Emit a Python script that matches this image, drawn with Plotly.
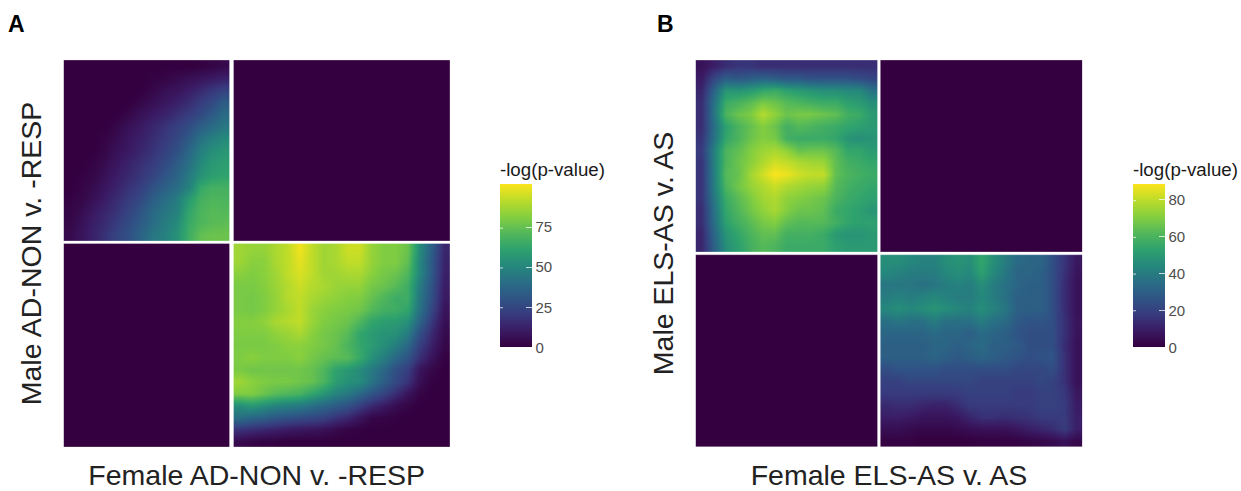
import plotly.graph_objects as go

# Colour scale
COLORSCALE = [[0.0, "#34003f"], [0.1, "#3a1a63"], [0.2, "#383a7e"], [0.3, "#2f5585"],
              [0.4, "#296e85"], [0.5, "#25887c"], [0.6, "#2ea26e"], [0.7, "#53b85a"],
              [0.8, "#85cf3f"], [0.9, "#bcdc2a"], [1.0, "#fbe41c"]]

A_MAX = 101.5
B_MAX = 88.0
A_TICKS = [0, 25, 50, 75]
B_TICKS = [0, 20, 40, 60, 80]

A_XTITLE = "Female AD-NON v. -RESP"
A_YTITLE = "Male AD-NON v. -RESP"
B_XTITLE = "Female ELS-AS v. AS"
B_YTITLE = "Male ELS-AS v. AS"
LEGEND_TITLE = "-log(p-value)"

# Rows run top to bottom
A_TOP_LEFT = [
 [0,0,0,0,0,0,0,0,0,0,0,1,2,4],
 [0,0,0,0,0,0,0,1,2,4,6,8,10,12],
 [0,0,0,0,0,0,0,3,6,8,11,15,19,23],
 [0,0,0,0,0,0,3,6,9,12,16,21,26,33],
 [0,0,0,0,0,3,7,10,13,17,21,26,32,39],
 [0,0,0,0,3,7,10,14,18,22,27,34,39,44],
 [0,0,0,2,5,9,12,16,20,25,32,41,47,51],
 [0,0,0,3,7,10,14,18,23,28,37,47,53,56],
 [0,0,2,5,9,13,17,21,26,33,41,51,57,59],
 [0,1,3,7,11,15,19,24,30,36,45,54,59,61],
 [0,2,5,9,13,18,22,29,35,40,48,63,67,67],
 [1,3,7,11,16,21,26,34,40,46,58,67,70,69],
 [2,5,10,14,18,24,30,38,44,48,62,69,72,71],
 [3,7,12,16,21,27,33,40,46,52,64,70,72,73],
 [4,8,13,18,24,29,36,44,48,54,66,74,76,76],
]
A_BOTTOM_RIGHT = [
 [86,84,84,88,92,100,92,86,88,94,94,84,80,80,76,52,34,14],
 [86,82,82,88,92,98,92,86,88,92,92,84,80,80,74,50,32,13],
 [82,80,82,86,92,96,92,86,86,88,88,82,78,76,70,50,32,12],
 [79,79,81,85,90,94,90,88,85,84,84,78,76,72,66,46,30,11],
 [79,78,80,84,90,92,88,85,83,81,80,75,70,65,66,44,28,10],
 [79,78,80,84,88,92,85,82,80,79,77,71,67,66,62,42,25,8],
 [81,81,83,88,90,92,85,80,78,76,70,62,59,58,54,36,20,6],
 [80,80,80,83,85,88,82,78,76,72,62,58,55,54,46,28,15,4],
 [79,79,79,80,82,82,80,78,75,69,63,58,53,47,38,22,12,3],
 [80,82,80,80,80,82,78,75,73,72,64,54,47,38,30,17,8,1],
 [79,77,77,77,77,77,75,70,61,57,52,45,38,28,22,8,3,0],
 [86,82,80,79,79,77,75,69,59,54,52,43,34,26,18,6,1,0],
 [80,80,76,72,70,68,62,56,49,45,38,30,24,16,8,2,0,0],
 [53,57,53,49,47,45,41,37,33,29,22,15,10,5,2,0,0,0],
 [41,37,35,31,29,27,25,23,18,14,8,3,2,1,0,0,0,0],
 [18,16,14,12,10,9,8,7,4,2,1,0,0,0,0,0,0,0],
 [4,2,1,1,0,0,0,0,0,0,0,0,0,0,0,0,0,0],
]
B_TOP_LEFT = [
 [6,10,14,16,16,14,14,14,14,14,14,14,14,14,14],
 [9,21,29,27,29,31,29,27,27,25,25,25,25,23,21],
 [12,31,48,48,50,54,56,52,50,48,46,46,44,44,36],
 [14,36,56,59,63,68,66,62,60,58,56,56,52,50,46],
 [14,37,60,66,69,78,72,66,68,68,66,64,58,56,50],
 [14,35,52,60,65,70,66,58,62,60,58,56,54,52,50],
 [16,36,54,60,66,70,68,58,56,56,56,54,48,46,48],
 [18,41,60,64,70,74,76,72,65,66,66,62,54,54,50],
 [16,41,60,66,71,77,82,80,77,75,74,64,58,56,54],
 [16,40,62,65,75,82,88,86,82,80,80,64,60,58,56],
 [16,40,60,67,73,77,81,77,75,73,72,62,58,56,54],
 [16,38,56,63,69,75,77,72,70,68,66,60,56,54,52],
 [14,36,54,61,67,72,76,70,66,66,64,56,54,52,48],
 [14,35,52,58,63,68,70,64,62,62,62,58,54,52,52],
 [12,32,48,54,60,64,64,58,58,58,56,50,48,48,50],
 [12,30,46,52,58,62,60,56,56,56,56,52,50,50,50],
]
B_BOTTOM_RIGHT = [
 [46,46,44,42,42,46,48,46,54,46,40,34,32,32,24,16,8],
 [44,42,40,40,40,44,46,44,52,44,38,32,32,30,24,15,7],
 [38,38,38,36,38,40,42,40,46,40,36,32,30,30,24,14,6],
 [40,42,40,42,44,42,40,40,44,40,36,30,30,30,24,14,6],
 [44,46,44,46,48,46,44,42,46,42,38,30,30,30,24,14,6],
 [36,38,36,36,40,36,36,36,40,36,34,28,26,26,24,15,7],
 [32,32,32,32,34,32,32,30,34,32,30,26,24,24,24,15,7],
 [30,30,30,30,32,32,30,32,34,30,30,28,24,24,24,14,6],
 [30,30,30,30,32,30,28,30,32,30,28,26,24,26,26,15,6],
 [24,26,26,26,26,24,24,24,24,24,24,22,22,22,24,15,6],
 [20,20,22,22,22,22,22,22,20,20,20,20,20,22,20,15,6],
 [18,18,18,18,18,18,18,20,20,20,20,18,18,20,20,17,8],
 [13,14,14,12,11,11,14,18,18,18,18,18,18,20,20,18,9],
 [10,10,9,7,7,7,8,12,15,15,14,15,16,18,18,18,10],
 [5,5,4,3,3,3,4,5,6,6,6,8,10,12,14,18,10],
 [1,1,1,0,0,0,0,0,1,1,1,1,2,3,4,6,3],
]
ZERO_QUADRANT = [[0, 0], [0, 0]]

W, H = 1241, 491
FONT = "Liberation Sans"
TOP, BOTTOM = 60.0, 447.0      # plot band, px from top
BAR_TOP, BAR_BOTTOM = 186.0, 347.5
BAR_WIDTH = 32
fig = go.Figure()
edges = []
notes = []


def quadrant(z, xa, ya, x0, x1, y0, y1, zmax):
    nr, nc = len(z), len(z[0])
    fig.add_trace(go.Heatmap(z=z, xaxis=xa, yaxis=ya, x0=x0 + (x1 - x0) / nc / 2, dx=(x1 - x0) / nc,
                             y0=y0 + (y1 - y0) / nr / 2, dy=(y1 - y0) / nr,
                             zmin=0, zmax=zmax, colorscale=COLORSCALE, zsmooth="best",
                             showscale=False, hoverinfo="skip"))
    edges.append(dict(type="rect", xref=xa, yref=ya, x0=x0, x1=x1, y0=y0, y1=y1, layer="above",
                      line=dict(color="rgba(255,255,255,0.3)", width=1)))


def panel(tl, br, xa, ya, left, right, vgap, hgap, zmax):
    # Axes are in pixels of the figure so the quadrants share one scale
    quadrant(tl, xa, ya, left, vgap[0], TOP, hgap[0], zmax)
    quadrant(ZERO_QUADRANT, xa, ya, vgap[1], right, TOP, hgap[0], zmax)
    quadrant(ZERO_QUADRANT, xa, ya, left, vgap[0], hgap[1], BOTTOM, zmax)
    quadrant(br, xa, ya, vgap[1], right, hgap[1], BOTTOM, zmax)


def colorbar_trace(xa, ya, zmax, ticks, x_px, title):
    fig.add_trace(go.Heatmap(z=[[0, zmax]], xaxis=xa, yaxis=ya, visible=True, opacity=0, x=[0, 0], y=[0],
                             zmin=0, zmax=zmax, colorscale=COLORSCALE, hoverinfo="skip",
                             colorbar=dict(x=x_px / W, xanchor="left", xref="paper", xpad=0, ypad=0,
                                           y=1 - BAR_BOTTOM / H, yanchor="bottom", yref="paper",
                                           thickness=BAR_WIDTH, thicknessmode="pixels",
                                           len=BAR_BOTTOM - BAR_TOP + 27, lenmode="pixels", outlinewidth=0,
                                           tickvals=ticks, ticks="inside", ticklen=6, tickwidth=1,
                                           tickcolor="rgba(255,255,255,0.75)", tickprefix="\u00a0\u00a0",
                                           tickfont=dict(family=FONT, size=15, color="#4d4d4d"),
                                           title=dict(text=title, side="top",
                                                      font=dict(family=FONT, size=18.7, color="#1a1a1a")))))
    # The legend has tick marks on its left side too
    for v in ticks:
        notes.append(dict(text=" ", xref="paper", yref="paper", x=x_px / W,
                          y=1 - (BAR_BOTTOM - v / zmax * (BAR_BOTTOM - BAR_TOP)) / H,
                          showarrow=True, arrowhead=0, arrowwidth=1, ax=6, ay=0,
                          arrowcolor="rgba(255,255,255,0.75)"))


panel(A_TOP_LEFT, A_BOTTOM_RIGHT, "x", "y", 63.5, 450.0, (229.7, 233.5), (241.0, 243.5), A_MAX)
panel(B_TOP_LEFT, B_BOTTOM_RIGHT, "x2", "y2", 695.5, 1082.5, (877.7, 880.3), (252.0, 254.7), B_MAX)
colorbar_trace("x", "y", A_MAX, A_TICKS, 500, LEGEND_TITLE)
colorbar_trace("x2", "y2", B_MAX, B_TICKS, 1133, LEGEND_TITLE)

AXIS = dict(showgrid=False, zeroline=False, showticklabels=False, ticks="", showline=False)
title_font = dict(family=FONT, size=28.5, color="#222222")
fig.update_layout(
    width=W, height=H, margin=dict(l=0, r=0, t=0, b=0), paper_bgcolor="white", plot_bgcolor="white",
    shapes=edges,
    xaxis=dict(AXIS, domain=[63.5 / W, 450 / W], range=[63.5, 450], anchor="y",
               title=dict(text=A_XTITLE, font=title_font, standoff=19)),
    yaxis=dict(AXIS, domain=[1 - BOTTOM / H, 1 - TOP / H], range=[BOTTOM, TOP], anchor="x",
               title=dict(text=A_YTITLE, font=title_font, standoff=12)),
    xaxis2=dict(AXIS, domain=[695.5 / W, 1082.5 / W], range=[695.5, 1082.5], anchor="y2",
                title=dict(text=B_XTITLE, font=title_font, standoff=19)),
    yaxis2=dict(AXIS, domain=[1 - BOTTOM / H, 1 - TOP / H], range=[BOTTOM, TOP], anchor="x2",
                title=dict(text=B_YTITLE, font=title_font, standoff=12)),
    annotations=notes + [
        dict(text="<b>A</b>", x=6 / W, y=1 - 9 / H, xref="paper", yref="paper", xanchor="left", yanchor="top",
             showarrow=False, font=dict(family=FONT, size=23, color="black")),
        dict(text="<b>B</b>", x=655 / W, y=1 - 9 / H, xref="paper", yref="paper", xanchor="left", yanchor="top",
             showarrow=False, font=dict(family=FONT, size=23, color="black")),
    ],
)
fig.write_html("out.html", config={"displayModeBar": False}, post_script="document.body.style.margin='0';")
